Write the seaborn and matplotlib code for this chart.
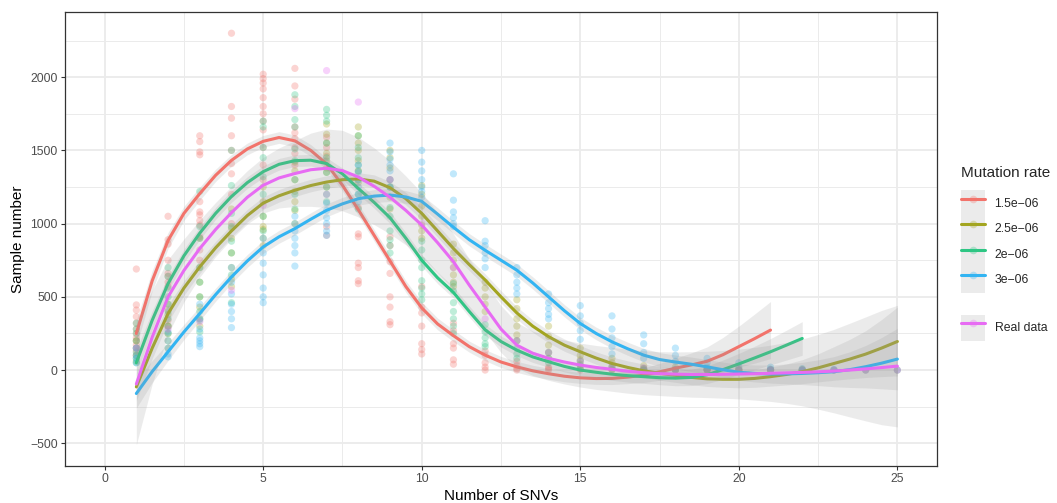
import numpy as np
import pandas as pd
import matplotlib
matplotlib.use("Agg")
import matplotlib.pyplot as plt
import seaborn as sns
from matplotlib.lines import Line2D
from matplotlib.patches import Patch

# Series (mutation rates + the real data), ggplot default hue colours
rate_names = ["1.5e-06", "2.5e-06", "2e-06", "3e-06", "Real data"]
rate_labels = ["1.5e\u221206", "2.5e\u221206", "2e\u221206", "3e\u221206", "Real data"]
rate_colors = ["#F2736B", "#A3A520", "#2EC684", "#33B4F2", "#E76BF3"]

# Simulated sample counts, one list per number of SNVs (1, 2, 3, ...)
pts_15 = [
    [690, 445, 410, 365, 320, 280, 250, 220, 200, 170, 130, 100],
    [1050, 890, 860, 750, 660, 640, 600, 570, 410, 340, 300],
    [1600, 1560, 1490, 1470, 1150, 1080, 1060, 1020, 990, 910, 820, 750],
    [2300, 1800, 1720, 1600, 1500, 1410, 1340, 1200, 1000],
    [2020, 1990, 1960, 1920, 1860, 1800, 1750, 1700, 1640, 1520, 1400, 1300],
    [2060, 1940, 1850, 1660, 1620, 1580, 1520, 1480, 1400],
    [1590, 1520, 1460, 1380, 1200, 980, 920],
    [1110, 930, 910, 730, 700, 610, 590],
    [910, 850, 740, 660, 500, 430, 330, 310],
    [570, 430, 390, 300, 180, 140, 110],
    [320, 270, 180, 150, 70, 40],
    [130, 100, 50, 20, 0],
    [60, 30, 10, 0],
    [20, 10, 0],
    [10, 0],
    [5, 0],
    [0], [0], [0], [0], [0],
]
pts_25 = [
    [200, 150, 100, 60],
    [450, 380, 300, 250, 200, 150],
    [900, 700, 600, 500, 430, 350, 300],
    [1100, 970, 900, 800, 700, 620, 570],
    [1250, 1150, 1050, 980, 960, 900, 850],
    [1420, 1360, 1300, 1220, 1150, 1090, 1000],
    [1680, 1610, 1550, 1480, 1430, 1350, 1250],
    [1660, 1600, 1550, 1500, 1430, 1360, 1280],
    [1500, 1450, 1380, 1300, 1250, 1180, 1100],
    [1260, 1200, 1120, 1050, 990, 950, 900],
    [860, 800, 750, 700, 650, 600, 570],
    [600, 560, 500, 450, 400],
    [480, 420, 350, 300, 240, 200],
    [300, 230, 170, 120, 80],
    [150, 100, 70, 40],
    [80, 50, 20],
    [30, 10, 0],
    [20, 0],
    [10, 0], [10, 0], [5, 0], [5, 0], [0], [0], [0],
]
pts_20 = [
    [320, 280, 250, 200, 150, 120, 80, 50],
    [700, 640, 560, 500, 450, 400, 350, 300, 250],
    [1220, 980, 900, 700, 600, 500, 400, 340, 260],
    [1500, 1260, 1070, 980, 880, 800, 650, 460],
    [1700, 1660, 1520, 1450, 1320, 1200, 1050, 950],
    [1880, 1800, 1710, 1660, 1510, 1430, 1300, 1200, 1100],
    [1780, 1740, 1700, 1550, 1450, 1350, 1250, 1150],
    [1600, 1520, 1450, 1400, 1360, 1300, 1200, 1100],
    [1250, 1110, 1050, 950, 890, 850, 800],
    [880, 820, 750, 700, 610, 560, 520, 480],
    [590, 540, 460, 400, 350, 300, 250],
    [310, 260, 220, 180, 160],
    [200, 150, 110, 80],
    [120, 80, 50],
    [60, 30, 10],
    [20, 5],
    [10, 0],
    [5, 0], [5, 0], [0], [0], [0],
]
pts_30 = [
    [150, 100, 80, 50],
    [260, 200, 150, 110, 90],
    [450, 350, 280, 220, 200, 180, 160],
    [700, 600, 520, 450, 400, 350, 290],
    [900, 800, 730, 650, 560, 500, 460],
    [1050, 1000, 950, 900, 850, 800, 710],
    [1200, 1140, 1090, 1040, 1000, 950, 920],
    [1400, 1350, 1300, 1250, 1200, 1150],
    [1550, 1490, 1440, 1400, 1360, 1300, 1250],
    [1500, 1420, 1360, 1300, 1250, 1220, 1180],
    [1340, 1160, 1080, 1040, 1000, 980],
    [1020, 880, 850, 800, 760, 700],
    [700, 650, 600, 560, 520],
    [520, 460, 420, 380, 350],
    [440, 370, 320, 270, 210],
    [370, 280, 220, 160, 110],
    [240, 180, 120, 80],
    [150, 100, 60],
    [80, 50, 20],
    [50, 20],
    [20, 5],
    [10, 0],
    [5, 0],
    [0], [0],
]
# Real data: one count per number of SNVs
pts_real = [150, 280, 330, 545, 1125, 1785, 2045, 1830, 1300, 1000, 700, 350,
            200, 120, 60, 30, 15, 5, 2, 1, 1, 0, 0, 0, 0]

# Smoothed fits (read every 0.5 SNV, starting at 1)
fit_15 = [250, 610, 885, 1070, 1205, 1330, 1432, 1510, 1562, 1588,
          1565, 1500, 1408, 1262, 1095, 920, 745, 570, 425, 315,
          235, 160, 102, 55, 22, -5, -25, -42, -53, -58,
          -57, -48, -35, -12, 13, 35, 60, 105, 160, 215, 273]
fit_25 = [-115, 150, 386, 560, 705, 835, 950, 1055, 1140, 1190,
          1228, 1260, 1284, 1300, 1305, 1290, 1245, 1170, 1070, 950,
          830, 720, 615, 500, 390, 300, 228, 170, 125, 82,
          45, 18, -5, -22, -36, -50, -60, -63, -63, -57,
          -45, -30, -11, 15, 45, 75, 109, 150, 195]
fit_20 = [50, 340, 590, 780, 935, 1070, 1185, 1280, 1355, 1405,
          1430, 1433, 1410, 1340, 1240, 1145, 1040, 900, 750, 630,
          530, 400, 275, 195, 136, 90, 57, 25, 0, -15,
          -28, -38, -45, -52, -55, -50, -32, 3, 42, 83,
          125, 170, 216]
fit_30 = [-160, -10, 125, 260, 386, 515, 636, 745, 841, 910,
          966, 1030, 1091, 1135, 1170, 1188, 1195, 1182, 1152, 1065,
          975, 890, 818, 750, 682, 595, 500, 405, 318, 250,
          193, 145, 102, 72, 55, 40, 22, 2, -15, -23,
          -27, -26, -23, -18, -11, 3, 23, 47, 75]
fit_real = [-95, 225, 500, 680, 830, 960, 1075, 1180, 1262, 1312,
            1342, 1368, 1378, 1362, 1318, 1255, 1180, 1090, 990, 870,
            740, 580, 430, 280, 170, 115, 80, 55, 34, 18,
            5, -8, -18, -24, -28, -30, -30, -29, -27, -25,
            -22, -19, -16, -12, -7, 0, 8, 17, 27]

# Half-width of the confidence band, same grid as the fits
se_15 = [90, 70, 55, 48, 45, 42, 40, 40, 40, 40,
         40, 40, 40, 40, 40, 40, 40, 40, 40, 40,
         40, 38, 38, 38, 38, 38, 38, 38, 38, 40,
         42, 45, 50, 58, 68, 82, 98, 118, 140, 168, 195]
se_25 = [95, 72, 58, 50, 46, 44, 43, 43, 43, 43,
         43, 43, 43, 43, 43, 43, 43, 43, 43, 43,
         42, 42, 42, 42, 42, 42, 42, 42, 42, 43,
         44, 45, 46, 47, 48, 50, 52, 55, 58, 61,
         65, 72, 82, 96, 115, 135, 160, 195, 235]
se_20 = [85, 65, 52, 46, 43, 41, 40, 40, 40, 40,
         40, 40, 40, 40, 40, 40, 40, 40, 40, 40,
         38, 38, 38, 38, 38, 38, 38, 38, 38, 40,
         42, 44, 46, 48, 52, 56, 60, 66, 72, 80,
         90, 102, 115]
se_30 = [100, 75, 60, 52, 48, 45, 44, 44, 44, 44,
         44, 44, 44, 44, 44, 44, 44, 44, 44, 44,
         42, 42, 42, 42, 42, 42, 42, 42, 42, 43,
         44, 45, 46, 47, 48, 49, 50, 52, 55, 58,
         62, 68, 76, 88, 103, 122, 145, 175, 210]
se_real = [415, 320, 255, 215, 195, 185, 180, 182, 190, 205,
           225, 250, 268, 275, 272, 262, 250, 235, 220, 205,
           190, 178, 168, 160, 155, 152, 150, 150, 150, 150,
           150, 150, 150, 150, 152, 155, 158, 163, 170, 180,
           192, 208, 228, 255, 285, 320, 355, 390, 415]

# long table of the scatter points
rows = []
for name, pts in zip(rate_names[:4], [pts_15, pts_25, pts_20, pts_30]):
    for i, vals in enumerate(pts):
        for v in vals:
            rows.append((i + 1, v, name))
for i, v in enumerate(pts_real):
    rows.append((i + 1, v, "Real data"))
df = pd.DataFrame(rows, columns=["snv", "count", "rate"])

sns.set_theme(style="whitegrid", rc={
    "axes.facecolor": "white",
    "grid.color": "#EBEBEB",
    "axes.edgecolor": "#333333",
})
plt.rcParams["font.family"] = ["Liberation Sans", "DejaVu Sans"]

fig, ax = plt.subplots(figsize=(10.57, 5.03))
fig.subplots_adjust(left=65 / 1057, right=937 / 1057, top=1 - 12 / 503, bottom=1 - 466 / 503)

palette = dict(zip(rate_names, rate_colors))
sns.scatterplot(data=df, x="snv", y="count", hue="rate", hue_order=rate_names,
                palette=palette, alpha=0.3, s=27, linewidth=0, legend=False,
                ax=ax, zorder=2)

fits = [fit_15, fit_25, fit_20, fit_30, fit_real]
ses = [se_15, se_25, se_20, se_30, se_real]
for name, fit, se in zip(rate_names, fits, ses):
    xs = 1 + 0.5 * np.arange(len(fit))
    fit = np.array(fit, dtype=float)
    se = np.array(se, dtype=float)
    ax.fill_between(xs, fit - se, fit + se, color="#999999", alpha=0.19, lw=0, zorder=3)
    sns.lineplot(x=xs, y=fit, color=palette[name], lw=2.2, ax=ax, zorder=3)

# axes
ax.set_xlim(-1.25, 26.25)
ax.set_ylim(-655, 2445)
ax.set_xticks([0, 5, 10, 15, 20, 25])
ax.set_xticks([2.5, 7.5, 12.5, 17.5, 22.5], minor=True)
ax.set_yticks([-500, 0, 500, 1000, 1500, 2000])
ax.set_yticks([-250, 250, 750, 1250, 1750, 2250], minor=True)
ax.grid(True, which="major", color="#EBEBEB", lw=1.3)
ax.grid(True, which="minor", color="#EBEBEB", lw=0.7)
ax.set_axisbelow(True)
for sp in ax.spines.values():
    sp.set_color("#333333")
    sp.set_linewidth(0.9)
ax.tick_params(which="major", direction="out", length=3, width=0.8, color="#333333",
               labelsize=8.8, labelcolor="#4D4D4D", pad=2.2, left=True, bottom=True)
ax.tick_params(which="minor", length=0)
ax.set_xlabel("Number of SNVs", fontsize=11, color="black", labelpad=2.5)
ax.set_ylabel("Sample number", fontsize=11, color="black", labelpad=4)

# legends: the four rates, then the real data on its own
def key(color):
    return (Patch(facecolor="#999999", alpha=0.19, edgecolor="none"),
            Line2D([], [], ls="none", marker="o", markersize=5.5, markeredgewidth=0,
                   markerfacecolor=color, alpha=0.3),
            Line2D([], [], color=color, lw=2.2))

common = dict(loc="upper left", frameon=False, fontsize=8.8, handlelength=2.0,
              handleheight=2.84, labelspacing=0, handletextpad=0.75, borderpad=0,
              borderaxespad=0)
leg = fig.legend([key(c) for c in rate_colors[:4]], rate_labels[:4], title="Mutation rate",
                 title_fontsize=11, alignment="left",
                 bbox_to_anchor=(961 / 1057, 1 - 166 / 503), **common)
leg._legend_box.sep = 7.5  # gap between title and keys
fig.legend([key(rate_colors[4])], rate_labels[4:],
           bbox_to_anchor=(961 / 1057, 1 - 315 / 503), **common)

fig.savefig("out.png", dpi=100)
